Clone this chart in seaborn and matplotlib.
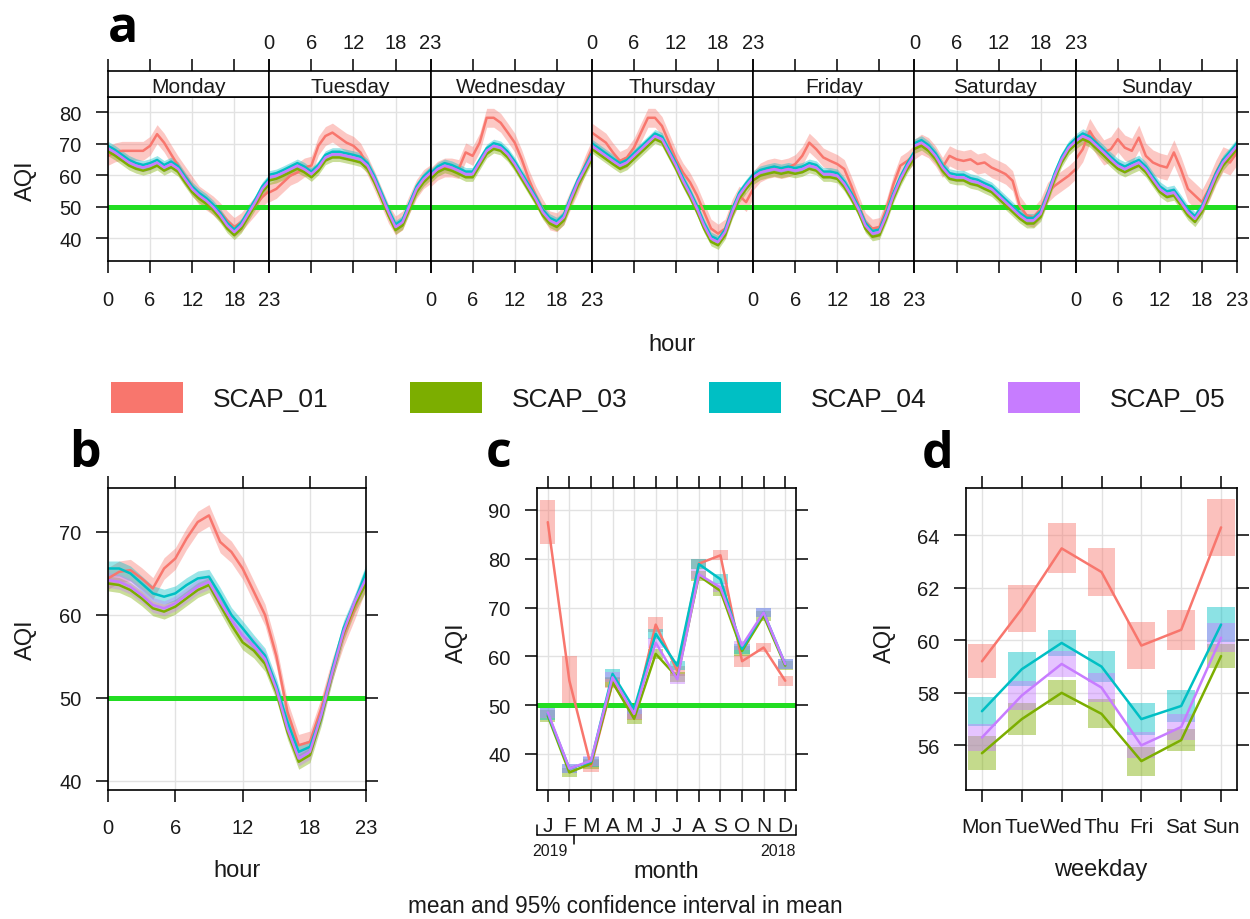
import matplotlib
matplotlib.use("Agg")
import matplotlib.pyplot as plt
import seaborn as sns
import pandas as pd
from matplotlib.patches import Rectangle
from matplotlib.lines import Line2D

# ---------------- data ----------------
sites = ["SCAP_01", "SCAP_03", "SCAP_04", "SCAP_05"]
site_colors = ["#F8766D", "#7CAE00", "#00BFC4", "#C77CFF"]
days = ["Monday", "Tuesday", "Wednesday", "Thursday", "Friday", "Saturday", "Sunday"]
hours = list(range(24))
hour_ticks = [0, 6, 12, 18, 23]
a_yticks = [40, 50, 60, 70, 80]
b_yticks = [40, 50, 60, 70]
c_yticks = [40, 50, 60, 70, 80, 90]
d_yticks = [56, 58, 60, 62, 64]
limit_value = 50

# panel a: hour x weekday (one list of 24 hourly means per day)
a_SCAP_01 = [
    [66.1, 67.2, 67.7, 67.7, 67.7, 67.7, 69.3, 73.0, 70.3, 66.6, 63.0, 59.8, 56.6, 53.5, 51.9, 50.3, 48.2, 45.6, 43.5, 45.0, 47.7, 50.3, 53.0, 55.0],
    [54.5, 55.6, 57.7, 59.8, 60.8, 62.4, 63.0, 69.3, 72.4, 73.5, 71.9, 70.3, 69.3, 67.2, 63.0, 58.2, 53.0, 47.7, 44.0, 45.6, 50.8, 55.6, 58.7, 60.3],
    [59.3, 61.4, 62.4, 62.4, 61.9, 67.2, 66.1, 70.3, 78.2, 78.2, 76.6, 73.5, 70.3, 65.0, 58.7, 53.5, 49.3, 45.6, 45.0, 47.2, 52.4, 57.2, 63.0, 68.2],
    [73.5, 71.9, 70.3, 67.2, 64.5, 65.6, 68.7, 73.5, 78.2, 78.2, 75.6, 70.3, 65.0, 60.8, 57.7, 53.5, 48.2, 43.0, 41.4, 43.0, 49.3, 53.5, 51.4, 55.6],
    [58.2, 60.8, 61.9, 62.4, 61.9, 62.4, 63.5, 66.1, 70.3, 68.2, 65.6, 64.5, 63.5, 61.9, 56.6, 50.8, 45.1, 43.0, 43.5, 49.3, 57.0, 63.0, 64.5, 66.6],
    [68.2, 69.8, 68.7, 66.1, 62.4, 66.1, 65.0, 64.5, 65.0, 63.5, 64.0, 62.4, 61.4, 60.3, 58.2, 50.3, 47.2, 46.6, 49.3, 54.5, 56.6, 58.2, 59.8, 61.9],
    [65.0, 68.2, 74.0, 70.3, 67.2, 68.2, 71.4, 68.7, 67.7, 71.9, 66.1, 64.0, 63.0, 62.4, 67.2, 61.9, 55.6, 53.5, 51.4, 55.6, 60.8, 65.0, 64.0, 67.2],
]
a_SCAP_03 = [
    [67.5, 66.2, 64.6, 63.0, 62.0, 61.4, 62.0, 63.0, 61.4, 62.5, 61.0, 57.7, 54.6, 52.5, 50.9, 48.8, 46.2, 43.0, 40.9, 43.0, 46.7, 50.4, 54.6, 57.2],
    [58.3, 58.8, 59.8, 60.9, 62.0, 60.9, 59.3, 61.4, 64.6, 65.6, 65.6, 65.1, 64.6, 64.0, 62.0, 57.7, 52.5, 47.2, 42.5, 44.0, 49.3, 54.6, 57.7, 59.8],
    [58.8, 60.9, 62.0, 61.4, 60.4, 59.3, 59.3, 63.0, 66.7, 68.3, 67.7, 65.6, 62.5, 58.8, 55.1, 51.4, 47.2, 44.6, 43.5, 45.6, 51.4, 56.7, 60.9, 65.1],
    [68.3, 66.7, 65.1, 63.5, 62.0, 63.0, 65.1, 67.2, 69.3, 71.4, 70.4, 66.2, 62.0, 57.2, 53.0, 48.3, 43.0, 38.8, 37.7, 40.9, 47.2, 52.5, 55.6, 58.3],
    [58.3, 59.8, 60.4, 60.9, 60.4, 60.9, 60.4, 60.9, 62.0, 61.4, 59.3, 59.3, 58.8, 56.2, 52.5, 48.3, 43.0, 40.4, 40.9, 46.2, 52.5, 57.7, 62.0, 65.6],
    [68.3, 69.3, 67.7, 65.1, 61.4, 58.8, 58.3, 58.3, 57.2, 56.7, 55.6, 54.6, 52.5, 50.4, 48.3, 46.2, 44.6, 44.6, 46.7, 52.5, 58.8, 64.0, 67.7, 69.8],
    [69.8, 71.4, 70.4, 68.3, 66.2, 64.0, 62.0, 60.9, 62.0, 63.0, 60.9, 57.7, 54.6, 53.0, 53.5, 50.4, 47.2, 45.1, 48.3, 53.5, 58.8, 63.0, 65.6, 68.3],
]
a_SCAP_04 = [
    [69.3, 68.0, 66.4, 64.8, 63.8, 63.2, 63.8, 64.8, 63.2, 64.3, 62.8, 59.5, 56.4, 54.3, 52.7, 50.6, 48.0, 44.8, 42.7, 44.8, 48.5, 52.2, 56.4, 59.0],
    [60.1, 60.6, 61.6, 62.7, 63.8, 62.7, 61.1, 63.2, 66.4, 67.4, 67.4, 66.9, 66.4, 65.8, 63.8, 59.5, 54.3, 49.0, 44.3, 45.8, 51.1, 56.4, 59.5, 61.6],
    [60.6, 62.7, 63.8, 63.2, 62.2, 61.1, 61.1, 64.8, 68.5, 70.1, 69.5, 67.4, 64.3, 60.6, 56.9, 53.2, 49.0, 46.4, 45.3, 47.4, 53.2, 58.5, 62.7, 66.9],
    [70.1, 68.5, 66.9, 65.3, 63.8, 64.8, 66.9, 69.0, 71.1, 73.2, 72.2, 68.0, 63.8, 59.0, 54.8, 50.1, 44.8, 40.6, 39.5, 42.7, 49.0, 54.3, 57.4, 60.1],
    [60.1, 61.6, 62.2, 62.7, 62.2, 62.7, 62.2, 62.7, 63.8, 63.2, 61.1, 61.1, 60.6, 58.0, 54.3, 50.1, 44.8, 42.2, 42.7, 48.0, 54.3, 59.5, 63.8, 67.4],
    [70.1, 71.1, 69.5, 66.9, 63.2, 60.6, 60.1, 60.1, 59.0, 58.5, 57.4, 56.4, 54.3, 52.2, 50.1, 48.0, 46.4, 46.4, 48.5, 54.3, 60.6, 65.8, 69.5, 71.6],
    [71.6, 73.2, 72.2, 70.1, 68.0, 65.8, 63.8, 62.7, 63.8, 64.8, 62.7, 59.5, 56.4, 54.8, 55.3, 52.2, 49.0, 46.9, 50.1, 55.3, 60.6, 64.8, 67.4, 70.1],
]
a_SCAP_05 = [
    [68.5, 67.2, 65.6, 64.0, 63.0, 62.4, 63.0, 64.0, 62.4, 63.5, 62.0, 58.7, 55.6, 53.5, 51.9, 49.8, 47.2, 44.0, 41.9, 44.0, 47.7, 51.4, 55.6, 58.2],
    [59.3, 59.8, 60.8, 61.9, 63.0, 61.9, 60.3, 62.4, 65.6, 66.6, 66.6, 66.1, 65.6, 65.0, 63.0, 58.7, 53.5, 48.2, 43.5, 45.0, 50.3, 55.6, 58.7, 60.8],
    [59.8, 61.9, 63.0, 62.4, 61.4, 60.3, 60.3, 64.0, 67.7, 69.3, 68.7, 66.6, 63.5, 59.8, 56.1, 52.4, 48.2, 45.6, 44.5, 46.6, 52.4, 57.7, 61.9, 66.1],
    [69.3, 67.7, 66.1, 64.5, 63.0, 64.0, 66.1, 68.2, 70.3, 72.4, 71.4, 67.2, 63.0, 58.2, 54.0, 49.3, 44.0, 39.8, 38.7, 41.9, 48.2, 53.5, 56.6, 59.3],
    [59.3, 60.8, 61.4, 61.9, 61.4, 61.9, 61.4, 61.9, 63.0, 62.4, 60.3, 60.3, 59.8, 57.2, 53.5, 49.3, 44.0, 41.4, 41.9, 47.2, 53.5, 58.7, 63.0, 66.6],
    [69.3, 70.3, 68.7, 66.1, 62.4, 59.8, 59.3, 59.3, 58.2, 57.7, 56.6, 55.6, 53.5, 51.4, 49.3, 47.2, 45.6, 45.6, 47.7, 53.5, 59.8, 65.0, 68.7, 70.8],
    [70.8, 72.4, 71.4, 69.3, 67.2, 65.0, 63.0, 61.9, 63.0, 64.0, 61.9, 58.7, 55.6, 54.0, 54.5, 51.4, 48.2, 46.1, 49.3, 54.5, 59.8, 64.0, 66.6, 69.3],
]
a_ci_SCAP_01 = [3.0, 3.0, 3.0, 3.0, 3.0, 3.2, 4.0]
a_ci_SCAP_03 = [1.4, 1.3, 1.3, 1.3, 1.3, 1.4, 1.5]
a_ci_SCAP_04 = [1.4, 1.3, 1.3, 1.3, 1.3, 1.4, 1.5]
a_ci_SCAP_05 = [1.4, 1.3, 1.3, 1.3, 1.3, 1.4, 1.5]

# panel b: hour of day (all days)
b_SCAP_01 = [64.4, 65.2, 65.4, 64.4, 63.2, 65.6, 66.8, 69.2, 71.2, 72.0, 68.8, 67.6, 65.6, 62.8, 60.0, 55.1, 48.3, 44.3, 44.7, 48.7, 53.5, 57.5, 60.8, 64.4]
b_SCAP_03 = [63.8, 63.6, 63.0, 62.0, 60.8, 60.4, 61.0, 62.0, 63.0, 63.6, 61.2, 58.8, 56.7, 55.7, 54.1, 50.7, 45.9, 42.3, 43.1, 47.5, 52.9, 57.8, 61.2, 63.8]
b_SCAP_04 = [65.6, 65.6, 65.0, 63.8, 62.6, 62.2, 62.6, 63.6, 64.4, 64.6, 62.4, 60.0, 58.4, 56.7, 55.1, 51.5, 47.1, 43.5, 44.1, 47.9, 53.5, 58.4, 61.6, 65.2]
b_SCAP_05 = [64.2, 64.0, 63.4, 62.4, 61.2, 60.8, 61.4, 62.4, 63.4, 64.0, 61.6, 59.4, 57.5, 56.3, 54.7, 51.1, 46.3, 42.7, 43.5, 47.9, 53.1, 58.0, 61.6, 64.4]
b_ci_half = [1.3, 0.9, 0.9, 0.9]

# panel c: month
months = ["J", "F", "M", "A", "M", "J", "J", "A", "S", "O", "N", "D"]
c_SCAP_01 = [87.5, 55.0, 37.5, 54.5, 48.0, 66.5, 57.0, 79.0, 80.7, 59.0, 61.8, 55.0]
c_SCAP_03 = [47.8, 36.2, 38.0, 54.7, 47.2, 60.5, 55.7, 76.5, 73.4, 61.1, 68.3, 58.1]
c_SCAP_04 = [48.2, 37.0, 38.4, 56.4, 49.2, 64.6, 58.1, 78.9, 75.8, 61.5, 69.0, 58.4]
c_SCAP_05 = [48.5, 37.0, 38.6, 55.7, 48.2, 62.8, 55.3, 76.8, 74.1, 62.2, 69.0, 58.4]
c_ci_SCAP_01 = [4.5, 5.0, 1.3, 1.0, 1.0, 1.5, 1.0, 1.0, 1.0, 1.2, 1.0, 1.0]
c_ci_SCAP_03 = [1.2, 1.0, 1.0, 1.0, 1.0, 1.0, 1.0, 1.0, 1.0, 1.0, 1.0, 1.0]
c_ci_SCAP_04 = [1.2, 1.0, 1.0, 1.0, 1.0, 1.0, 1.0, 1.0, 1.0, 1.0, 1.0, 1.0]
c_ci_SCAP_05 = [1.2, 1.0, 1.0, 1.0, 1.0, 1.0, 1.0, 1.0, 1.0, 1.0, 1.0, 1.0]
year_labels = ["2019", "2018"]

# panel d: weekday
weekdays = ["Mon", "Tue", "Wed", "Thu", "Fri", "Sat", "Sun"]
d_SCAP_01 = [59.2, 61.2, 63.5, 62.6, 59.8, 60.4, 64.3]
d_SCAP_03 = [55.7, 57.0, 58.0, 57.2, 55.4, 56.2, 59.4]
d_SCAP_04 = [57.3, 58.9, 59.9, 59.0, 57.0, 57.5, 60.6]
d_SCAP_05 = [56.3, 57.9, 59.1, 58.2, 56.0, 56.7, 60.1]
d_ci_SCAP_01 = [0.65, 0.90, 0.95, 0.90, 0.90, 0.75, 1.10]
d_ci_SCAP_03 = [0.65, 0.62, 0.48, 0.55, 0.55, 0.42, 0.45]
d_ci_SCAP_04 = [0.55, 0.65, 0.50, 0.60, 0.60, 0.60, 0.65]
d_ci_SCAP_05 = [0.50, 0.55, 0.50, 0.55, 0.50, 0.50, 0.55]

# ---------------- tables ----------------
pal = dict(zip(sites, site_colors))
a_vals = dict(zip(sites, [a_SCAP_01, a_SCAP_03, a_SCAP_04, a_SCAP_05]))
a_cis = dict(zip(sites, [a_ci_SCAP_01, a_ci_SCAP_03, a_ci_SCAP_04, a_ci_SCAP_05]))
rows = []
for s in sites:
    for di, d in enumerate(days):
        for h in hours:
            v = a_vals[s][di][h]
            c = a_cis[s][di]
            rows.append((s, d, h, v, v - c, v + c))
df_a = pd.DataFrame(rows, columns=["site", "day", "hour", "AQI", "lo", "hi"])

rows = []
for s, vals, c in zip(sites, [b_SCAP_01, b_SCAP_03, b_SCAP_04, b_SCAP_05], b_ci_half):
    for h, v in zip(hours, vals):
        rows.append((s, h, v, v - c, v + c))
df_b = pd.DataFrame(rows, columns=["site", "hour", "AQI", "lo", "hi"])

rows = []
for s, vals, cis in zip(sites, [c_SCAP_01, c_SCAP_03, c_SCAP_04, c_SCAP_05],
                        [c_ci_SCAP_01, c_ci_SCAP_03, c_ci_SCAP_04, c_ci_SCAP_05]):
    for m, (v, c) in enumerate(zip(vals, cis), start=1):
        rows.append((s, m, v, c))
df_c = pd.DataFrame(rows, columns=["site", "month", "AQI", "ci"])

rows = []
for s, vals, cis in zip(sites, [d_SCAP_01, d_SCAP_03, d_SCAP_04, d_SCAP_05],
                        [d_ci_SCAP_01, d_ci_SCAP_03, d_ci_SCAP_04, d_ci_SCAP_05]):
    for k, (v, c) in enumerate(zip(vals, cis), start=1):
        rows.append((s, k, v, c))
df_d = pd.DataFrame(rows, columns=["site", "wd", "AQI", "ci"])

# ---------------- style ----------------
sns.set_theme(style="white")
plt.rcParams["font.family"] = ["Liberation Sans", "DejaVu Sans"]
plt.rcParams["axes.linewidth"] = 1.2
plt.rcParams["axes.edgecolor"] = "black"

W, H = 1250, 920
fig = plt.figure(figsize=(W / 100, H / 100), dpi=100)
fig.patch.set_facecolor("white")

GREEN = "#22DD22"
GRID = "#E2E2E2"
TICK_LEN = 8.5
TICK_W = 1.1
TFS = 14.5
LFS = 17
LW = 1.8
TXT = "#1a1a1a"


def px_box(l, t, r, b):
    return [l / W, 1 - b / H, (r - l) / W, (b - t) / H]


def fx(x):
    return x / W


def fy(y):
    return 1 - y / H


def base_style(ax):
    for sp in ax.spines.values():
        sp.set_linewidth(1.2)
        sp.set_color("black")
        sp.set_zorder(6)
    ax.grid(True, color=GRID, lw=1.0)
    ax.set_axisbelow(True)
    ax.tick_params(direction="out", length=TICK_LEN, width=TICK_W, colors="black",
                   labelsize=TFS, labelcolor=TXT)
    ax.set_xlabel("")
    ax.set_ylabel("")


def letter(x, y, s, ha):
    fig.text(fx(x), fy(y), s, ha=ha, va="baseline", fontsize=36, color="black",
             fontweight="bold", family=["Open Sans", "DejaVu Sans"])


# ---------------- panel a ----------------
a_left, a_right, a_top, a_bot = 108, 1237, 98, 262
pw = (a_right - a_left) / 7
for i, d in enumerate(days):
    l = a_left + i * pw
    r = l + pw
    ax = fig.add_axes(px_box(l, a_top, r, a_bot))
    sub = df_a[df_a["day"] == d]
    for s in sites:
        ss = sub[sub["site"] == s]
        ax.fill_between(ss["hour"], ss["lo"], ss["hi"], color=pal[s], alpha=0.4, lw=0, zorder=2)
    ax.axhline(limit_value, color=GREEN, lw=3.6, zorder=2.5)
    sns.lineplot(data=sub, x="hour", y="AQI", hue="site", hue_order=sites, palette=pal,
                 errorbar=None, legend=False, lw=LW, ax=ax, zorder=3)
    ax.set_xlim(0, 23)
    ax.set_ylim(32.7, 84.8)
    ax.set_xticks(hour_ticks)
    ax.set_yticks(a_yticks)
    base_style(ax)
    ax.tick_params(axis="x", bottom=True, labelbottom=(i % 2 == 0), top=False, pad=12.5)
    ax.tick_params(axis="y", left=(i == 0), labelleft=(i == 0), right=(i == 6),
                   labelright=False, pad=10.5)
    # strip
    sax = fig.add_axes(px_box(l, 72, r, a_top))
    sax.set_xlim(0, 23)
    sax.set_ylim(0, 1)
    sax.set_xticks(hour_ticks)
    sax.set_yticks([])
    for sp in sax.spines.values():
        sp.set_linewidth(1.2)
        sp.set_color("black")
    sax.tick_params(axis="x", direction="out", length=TICK_LEN, width=TICK_W, colors="black",
                    labelsize=TFS, labelcolor=TXT, bottom=False, labelbottom=False,
                    top=True, labeltop=(i % 2 == 1), pad=5)
    sax.set_facecolor("white")
    sax.text(0.5, 0.42, d, transform=sax.transAxes, ha="center", va="center",
             fontsize=15, color=TXT)

fig.text(fx((a_left + a_right) / 2), fy(345), "hour", ha="center", va="center", fontsize=LFS, color=TXT)
fig.text(fx(26), fy(181), "AQI", ha="center", va="center", rotation=90, fontsize=LFS, color=TXT)
letter(108, 42, "a", "left")

# ---------------- legend ----------------
for k, s in enumerate(sites):
    x0 = 111 + 299 * k
    fig.patches.append(Rectangle((fx(x0), fy(414)), 72 / W, 31 / H,
                                 transform=fig.transFigure, facecolor=pal[s],
                                 edgecolor="none", figure=fig))
    fig.text(fx(213 + 299 * k), fy(400), s, ha="left", va="center", fontsize=19, color=TXT)

# ---------------- panel b ----------------
pb = fig.add_axes(px_box(108, 489, 366, 791))
for s in sites:
    ss = df_b[df_b["site"] == s]
    pb.fill_between(ss["hour"], ss["lo"], ss["hi"], color=pal[s], alpha=0.4, lw=0, zorder=2)
pb.axhline(limit_value, color=GREEN, lw=3.6, zorder=2.5)
sns.lineplot(data=df_b, x="hour", y="AQI", hue="site", hue_order=sites, palette=pal,
             errorbar=None, legend=False, lw=LW, ax=pb, zorder=3)
pb.set_xlim(0, 23)
pb.set_ylim(38.9, 75.3)
pb.set_xticks(hour_ticks)
pb.set_yticks(b_yticks)
base_style(pb)
pb.tick_params(axis="x", bottom=True, top=True, labeltop=False, pad=11.5)
pb.tick_params(axis="y", left=True, right=True, labelright=False, pad=10.5)
fig.text(fx(237), fy(871), "hour", ha="center", va="center", fontsize=LFS, color=TXT)
fig.text(fx(26), fy(640), "AQI", ha="center", va="center", rotation=90, fontsize=LFS, color=TXT)
letter(101, 467, "b", "right")

# ---------------- panel c ----------------
pc = fig.add_axes(px_box(537, 489, 796, 791))
for s in sites:
    ss = df_c[df_c["site"] == s]
    pc.bar(ss["month"], 2 * ss["ci"], bottom=ss["AQI"] - ss["ci"], width=0.7,
           color=pal[s], alpha=0.45, lw=0, zorder=2)
pc.axhline(limit_value, color=GREEN, lw=3.6, zorder=2.5)
sns.lineplot(data=df_c, x="month", y="AQI", hue="site", hue_order=sites, palette=pal,
             errorbar=None, legend=False, lw=LW, ax=pc, zorder=3)
pc.set_xlim(0.5, 12.5)
pc.set_ylim(32.6, 94.5)
pc.set_xticks(range(1, 13))
pc.set_xticklabels(months)
pc.set_yticks(c_yticks)
base_style(pc)
pc.tick_params(axis="x", bottom=True, top=True, labeltop=False, pad=10, labelsize=15)
pc.tick_params(axis="y", left=True, right=True, labelright=False, pad=10.5)
# year bracket under month labels
tr = pc.transData


def data_to_px(xv):
    return tr.transform((xv, 0))[0] / fig.dpi * 100


xl, xr = pc.get_xlim()
px_l, px_r, px_m = data_to_px(xl), data_to_px(xr), data_to_px(2.2)
yb = 836
for seg in [((px_l, px_r), (yb, yb)), ((px_l, px_l), (yb, 826)), ((px_r, px_r), (yb, 826)),
            ((px_m, px_m), (yb, 845))]:
    fig.add_artist(Line2D([fx(v) for v in seg[0]], [fy(v) for v in seg[1]],
                          transform=fig.transFigure, color="black", lw=1.1))
fig.text(fx(550), fy(852), year_labels[0], ha="center", va="center", fontsize=11.5, color=TXT)
fig.text(fx(778), fy(852), year_labels[1], ha="center", va="center", fontsize=11.5, color=TXT)
fig.text(fx(666), fy(872), "month", ha="center", va="center", fontsize=LFS, color=TXT)
fig.text(fx(457), fy(643), "AQI", ha="center", va="center", rotation=90, fontsize=LFS, color=TXT)
letter(512, 467, "c", "right")

# ---------------- panel d ----------------
pd_ax = fig.add_axes(px_box(966, 489, 1237, 791))
for s in sites:
    ss = df_d[df_d["site"] == s]
    pd_ax.bar(ss["wd"], 2 * ss["ci"], bottom=ss["AQI"] - ss["ci"], width=0.7,
              color=pal[s], alpha=0.45, lw=0, zorder=2)
sns.lineplot(data=df_d, x="wd", y="AQI", hue="site", hue_order=sites, palette=pal,
             errorbar=None, legend=False, lw=LW, ax=pd_ax, zorder=3)
pd_ax.set_xlim(0.6, 7.4)
pd_ax.set_ylim(54.3, 65.8)
pd_ax.set_xticks(range(1, 8))
pd_ax.set_xticklabels(weekdays)
pd_ax.set_yticks(d_yticks)
base_style(pd_ax)
pd_ax.tick_params(axis="x", bottom=True, top=True, labeltop=False, pad=11, labelsize=15)
pd_ax.tick_params(axis="y", left=True, right=True, labelright=False, pad=10.5)
fig.text(fx(1101), fy(870), "weekday", ha="center", va="center", fontsize=LFS, color=TXT)
fig.text(fx(885), fy(643), "AQI", ha="center", va="center", rotation=90, fontsize=LFS, color=TXT)
letter(953, 468, "d", "right")

# ---------------- footer ----------------
fig.text(0.5, fy(907), "mean and 95% confidence interval in mean", ha="center", va="center",
         fontsize=16.3, color=TXT)

fig.savefig("out.png", dpi=100, facecolor="white")
